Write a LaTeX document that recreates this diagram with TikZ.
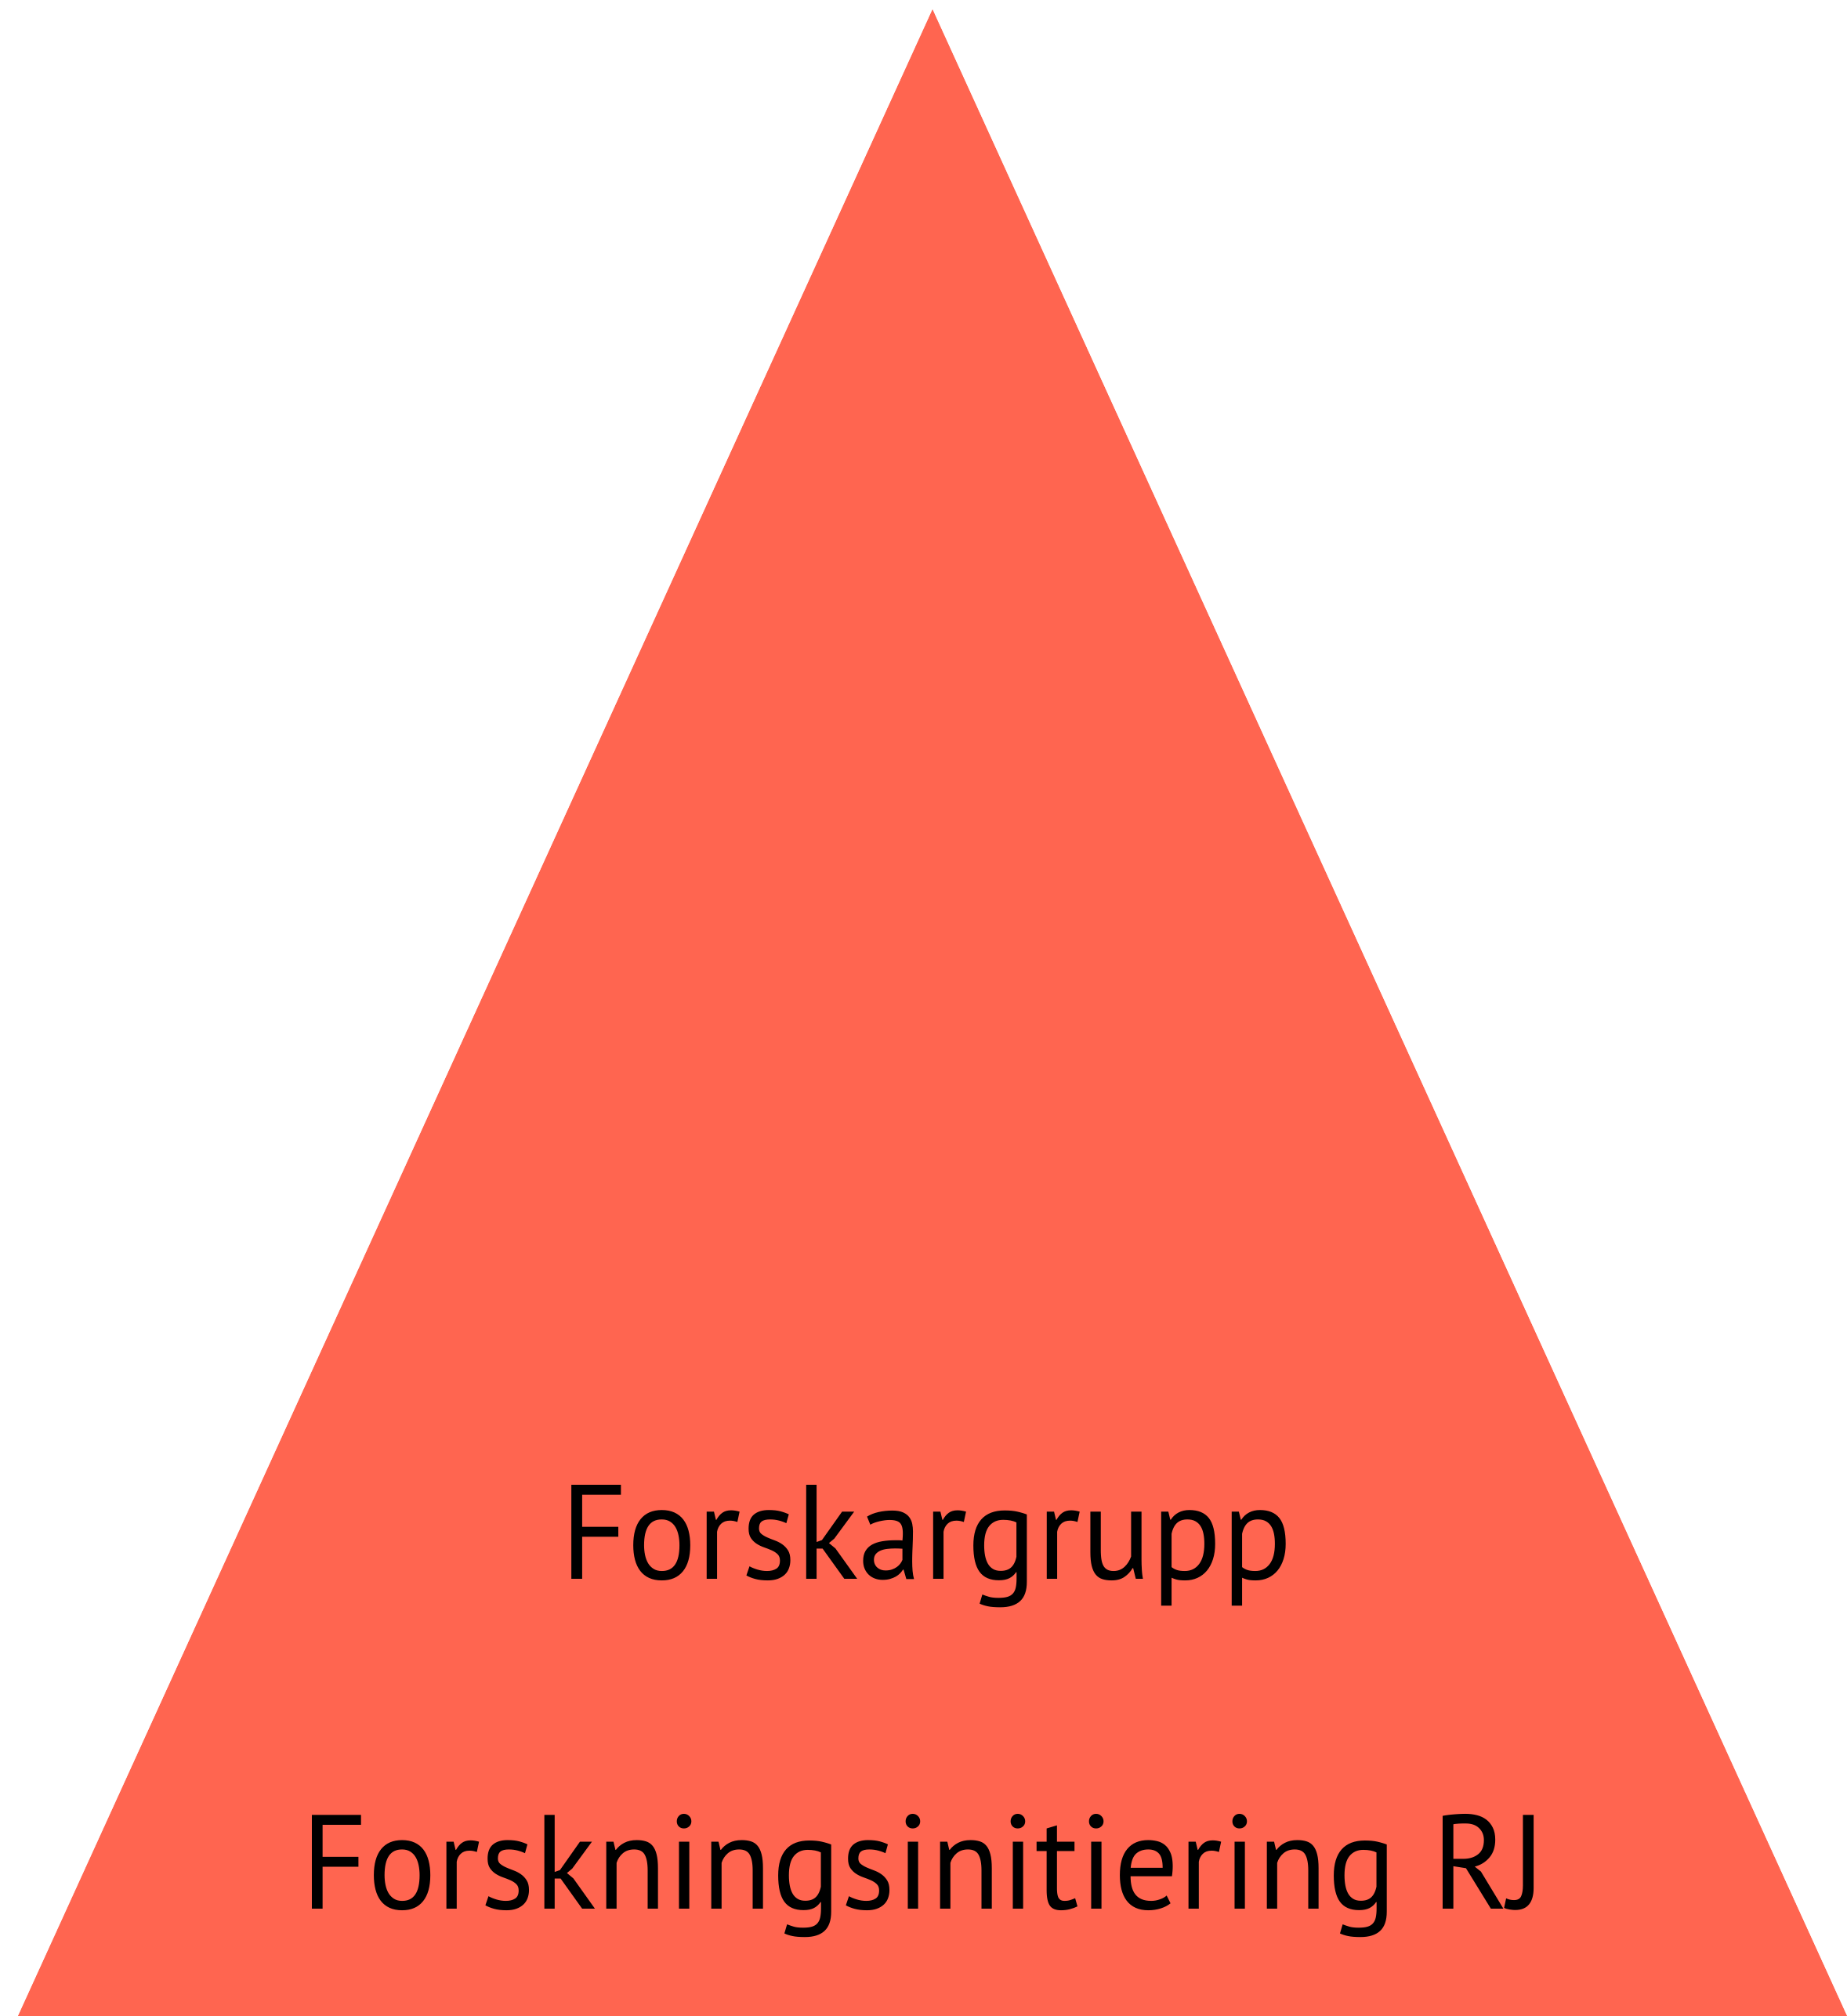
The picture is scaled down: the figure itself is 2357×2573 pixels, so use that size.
\documentclass[tikz,border=0pt]{standalone}
\usepackage{fontspec}
\setmainfont[Ligatures=NoCommon]{PT Sans}
\usepackage{graphicx}
\definecolor{tri}{RGB}{255,101,80}
\begin{document}
\begin{tikzpicture}[x=1pt,y=1pt,
  lbl/.style={inner sep=0pt, outer sep=0pt, anchor=base west, text=black}]
\useasboundingbox (0,0) rectangle (2357,2573);
\fill[tri] (23,0) -- (1190,2561) -- (2357,0) -- cycle;
\node[lbl] (top) at (715,557) {\resizebox{934pt}{120pt}{Forskargrupp}};
\node[lbl] (bot) at (384,136) {\resizebox{1588pt}{121pt}{Forskningsinitiering RJ}};
\end{tikzpicture}
\end{document}
